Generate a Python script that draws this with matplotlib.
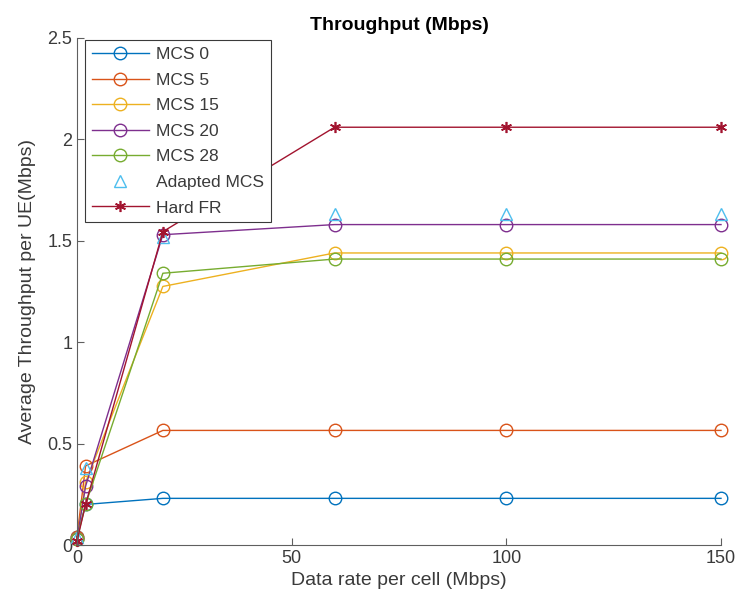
import matplotlib.pyplot as plt

# data
data_rate = [0, 2, 20, 60, 100, 150]
mcs0 = [0.04, 0.20, 0.23, 0.23, 0.23, 0.23]
mcs5 = [0.04, 0.39, 0.565, 0.565, 0.565, 0.565]
mcs15 = [0.03, 0.31, 1.275, 1.44, 1.44, 1.44]
mcs20 = [0.03, 0.29, 1.53, 1.58, 1.58, 1.58]
mcs28 = [0.03, 0.20, 1.34, 1.41, 1.41, 1.41]
adapted = [0.04, 0.38, 1.52, 1.63, 1.63, 1.63]
hard_fr = [0.02, 0.20, 1.545, 2.06, 2.06, 2.06]

series = [("MCS 0", mcs0, "#0072BD"),
          ("MCS 5", mcs5, "#D95319"),
          ("MCS 15", mcs15, "#EDB120"),
          ("MCS 20", mcs20, "#7E2F8E"),
          ("MCS 28", mcs28, "#77AC30")]

plt.rcParams['font.family'] = ['Liberation Sans', 'DejaVu Sans']
txt_col = '#3a3a3a'

fig = plt.figure(figsize=(7.36, 6.1), dpi=100)
ax = fig.add_axes([77 / 736, 1 - 545 / 610, 644 / 736, 507 / 610])

for name, vals, col in series:
    ax.plot(data_rate, vals, '-o', color=col, label=name, linewidth=1,
            markersize=9, markerfacecolor='none', markeredgewidth=1, clip_on=False)
ax.plot(data_rate, adapted, '^', color="#4DBEEE", label="Adapted MCS",
        markersize=9, markerfacecolor='none', markeredgewidth=1, linestyle='none',
        clip_on=False)
ax.plot(data_rate, hard_fr, '-', marker=(6, 2, 0), color="#A2142F", label="Hard FR",
        linewidth=1, markersize=8, markeredgewidth=1.2, clip_on=False)

ax.set_xlim(0, 150)
ax.set_ylim(0, 2.5)
ax.set_xticks([0, 50, 100, 150])
ax.set_yticks([0, 0.5, 1, 1.5, 2, 2.5])
ax.set_yticklabels(["0", "0.5", "1", "1.5", "2", "2.5"])
for s in ['top', 'right']:
    ax.spines[s].set_visible(False)
for s in ['left', 'bottom']:
    ax.spines[s].set_color('#5f5f5f')
ax.tick_params(direction='in', labelsize=13, colors='#5f5f5f', labelcolor=txt_col,
               length=5)
ax.set_xlabel("Data rate per cell (Mbps)", fontsize=14, color=txt_col)
ax.set_ylabel("Average Throughput per UE(Mbps)", fontsize=14, color=txt_col,
              labelpad=8)
ax.set_title("Throughput (Mbps)", fontsize=14, fontweight='bold')

leg = ax.legend(loc='upper left', fontsize=12.5, fancybox=False, framealpha=1,
                edgecolor='#3a3a3a', bbox_to_anchor=(0.012, 0.996),
                borderaxespad=0, handlelength=3.3, labelspacing=0.6,
                handletextpad=0.4)
leg.get_frame().set_linewidth(0.8)
for t in leg.get_texts():
    t.set_color(txt_col)

fig.savefig("out.png", dpi=100)
